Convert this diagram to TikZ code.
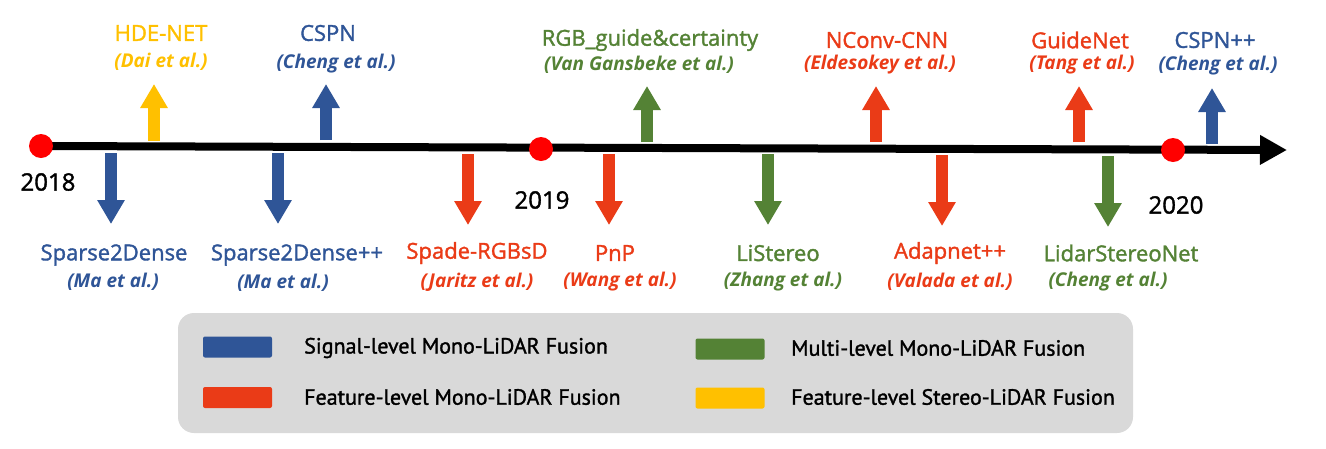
\documentclass[tikz,border=0pt]{standalone}
\usepackage{fontspec}
\setmainfont{Open Sans}
\newfontfamily\ttlfont{Open Sans}[BoldFont={Open Sans}, BoldFeatures={FakeBold=1.6}]
\newfontfamily\legfont{PT Sans}[BoldFont={PT Sans}, BoldFeatures={FakeBold=1.4}]
\usetikzlibrary{arrows.meta}
\definecolor{cblue}{HTML}{2F5597}
\definecolor{cred}{HTML}{EA3B17}
\definecolor{cgreen}{HTML}{548235}
\definecolor{cyellow}{HTML}{FFC000}
\definecolor{cgray}{HTML}{D9D9D9}
\definecolor{dotred}{HTML}{FF0000}
\begin{document}
\begin{tikzpicture}[x=1pt,y=-1pt,
  blockarr/.style={line width=12pt,-{Triangle[length=24pt,width=26pt]}},
  ttl/.style={font=\ttlfont\bfseries\fontsize{22}{26}\selectfont, inner sep=0pt},
  cite/.style={font=\fontsize{19}{22}\selectfont\bfseries\itshape, inner sep=0pt},
  yr/.style={font=\ttlfont\bfseries\fontsize{24}{28}\selectfont, inner sep=0pt, text=black},
  dot/.style={circle, fill=dotred, minimum size=24pt, inner sep=0pt},
  swatch/.style={rounded corners=2pt, minimum width=69pt, minimum height=21pt, inner sep=0pt},
  legtxt/.style={font=\legfont\bfseries\fontsize{22}{24}\selectfont, anchor=west, inner sep=0pt}]
\useasboundingbox (0,0) rectangle (1326,448);

% timeline
\coordinate (tstart) at (41,146);
\coordinate (tend) at (1287,150);
\draw[line width=8pt,-{Triangle[length=27pt,width=28pt]}] (tstart) -- (tend);
\node[dot] (d2018) at (41,146) {};
\node[dot] (d2019) at (541,149) {};
\node[dot] (d2020) at (1173,150) {};
\node[yr] (y2018) at (48,182) {2018};
\node[yr] (y2019) at (542,200) {2019};
\node[yr] (y2020) at (1176,205) {2020};

% up arrows
\coordinate (u1s) at (154,141); \coordinate (u1e) at (154,84);
\coordinate (u2s) at (326,140); \coordinate (u2e) at (326,84);
\coordinate (u3s) at (647,142); \coordinate (u3e) at (647,86);
\coordinate (u4s) at (876,142); \coordinate (u4e) at (876,86);
\coordinate (u5s) at (1079,142); \coordinate (u5e) at (1079,86);
\coordinate (u6s) at (1212,144); \coordinate (u6e) at (1212,88);
\draw[blockarr,cyellow] (u1s) -- (u1e);
\draw[blockarr,cblue] (u2s) -- (u2e);
\draw[blockarr,cgreen] (u3s) -- (u3e);
\draw[blockarr,cred] (u4s) -- (u4e);
\draw[blockarr,cred] (u5s) -- (u5e);
\draw[blockarr,cblue] (u6s) -- (u6e);

% down arrows
\coordinate (w1s) at (111,153); \coordinate (w1e) at (111,224);
\coordinate (w2s) at (278,153); \coordinate (w2e) at (278,224);
\coordinate (w3s) at (468,154); \coordinate (w3e) at (468,225);
\coordinate (w4s) at (609,154); \coordinate (w4e) at (609,225);
\coordinate (w5s) at (768,154); \coordinate (w5e) at (768,225);
\coordinate (w6s) at (942,155); \coordinate (w6e) at (942,226);
\coordinate (w7s) at (1108,156); \coordinate (w7e) at (1108,227);
\draw[blockarr,cblue] (w1s) -- (w1e);
\draw[blockarr,cblue] (w2s) -- (w2e);
\draw[blockarr,cred] (w3s) -- (w3e);
\draw[blockarr,cred] (w4s) -- (w4e);
\draw[blockarr,cgreen] (w5s) -- (w5e);
\draw[blockarr,cred] (w6s) -- (w6e);
\draw[blockarr,cgreen] (w7s) -- (w7e);

% top labels
\node[ttl,text=cyellow] (t1) at (161,33) {HDE-NET};
\node[cite,text=cyellow] (c1) at (161,62) {(Dai et al.)};
\node[ttl,text=cblue] (t2) at (328,33) {CSPN};
\node[cite,text=cblue] (c2) at (336,64) {(Cheng et al.)};
\node[ttl,text=cgreen] (t3) at (650,40) {RGB\_guide\&certainty};
\node[cite,text=cgreen] (c3) at (639,65) {(Van Gansbeke et al.)};
\node[ttl,text=cred] (t4) at (887,40) {NConv-CNN};
\node[cite,text=cred] (c4) at (880,65) {(Eldesokey et al.)};
\node[ttl,text=cred] (t5) at (1080,40) {GuideNet};
\node[cite,text=cred] (c5) at (1082,65) {(Tang et al.)};
\node[ttl,text=cblue] (t6) at (1215,40) {CSPN++};
\node[cite,text=cblue] (c6) at (1218,66) {(Cheng et al.)};

% bottom labels
\node[ttl,text=cblue] (b1) at (114,255) {Sparse2Dense};
\node[cite,text=cblue] (e1) at (113,282) {(Ma et al.)};
\node[ttl,text=cblue] (b2) at (297,255) {Sparse2Dense++};
\node[cite,text=cblue] (e2) at (283,283) {(Ma et al.)};
\node[ttl,text=cred] (b3) at (477,253) {Spade-RGBsD};
\node[cite,text=cred] (e3) at (477,282) {(Jaritz et al.)};
\node[ttl,text=cred] (b4) at (615,253) {PnP};
\node[cite,text=cred] (e4) at (620,282) {(Wang et al.)};
\node[ttl,text=cgreen] (b5) at (778,253) {LiStereo};
\node[cite,text=cgreen] (e5) at (783,282) {(Zhang et al.)};
\node[ttl,text=cred] (b6) at (950,253) {Adapnet++};
\node[cite,text=cred] (e6) at (950,282) {(Valada et al.)};
\node[ttl,text=cgreen] (b7) at (1121,253) {LidarStereoNet};
\node[cite,text=cgreen] (e7) at (1108,282) {(Cheng et al.)};

% legend
\node[fill=cgray, rounded corners=16pt, minimum width=955pt, minimum height=120pt, inner sep=0pt] (legend) at (655.5,373) {};
\node[swatch,fill=cblue] (s1) at (237.5,347) {};
\node[swatch,fill=cred] (s2) at (237.5,397.5) {};
\node[swatch,fill=cgreen] (s3) at (730,349) {};
\node[swatch,fill=cyellow] (s4) at (730,398) {};
\node[legtxt] (l1) at (304,348) {Signal-level Mono-LiDAR Fusion};
\node[legtxt] (l2) at (304,397) {Feature-level Mono-LiDAR Fusion};
\node[legtxt] (l3) at (791,348) {Multi-level Mono-LiDAR Fusion};
\node[legtxt] (l4) at (791,397) {Feature-level Stereo-LiDAR Fusion};
\end{tikzpicture}
\end{document}
